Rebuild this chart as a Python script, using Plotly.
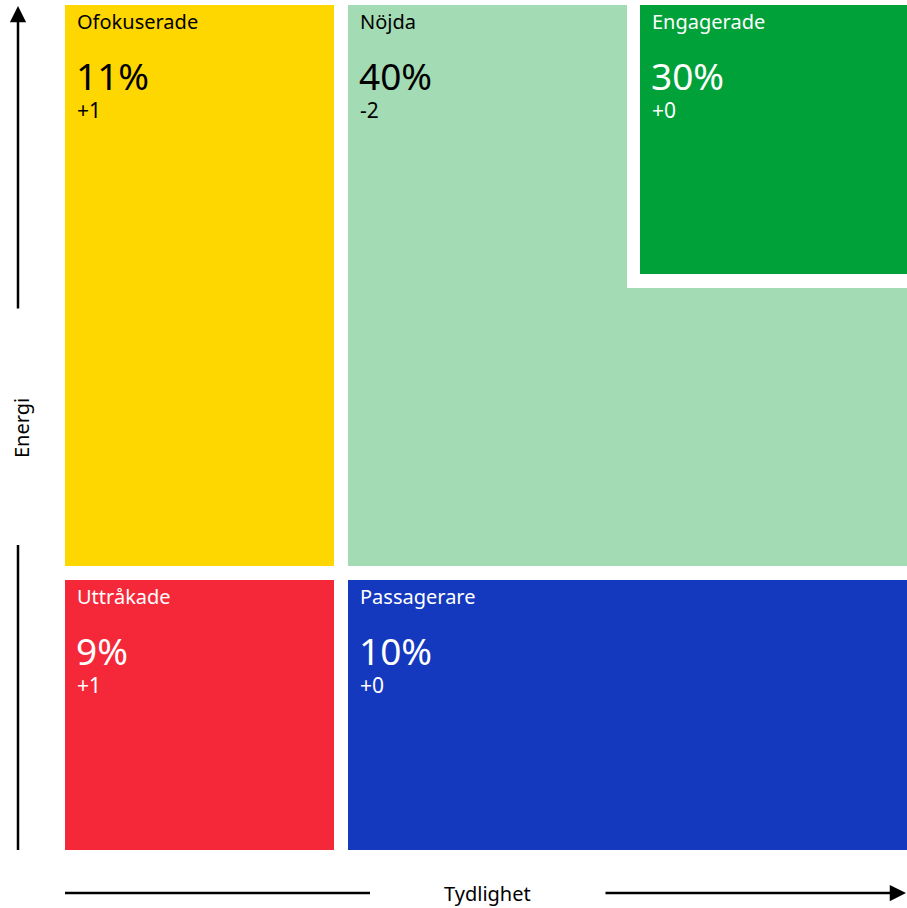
import plotly.graph_objects as go

# ---- data ----
segments = ["Ofokuserade", "Nöjda", "Engagerade", "Uttråkade", "Passagerare"]
shares = [11, 40, 30, 9, 10]
changes = ["+1", "-2", "+0", "+1", "+0"]
x_title = "Tydlighet"
y_title = "Energi"

# ---- layout constants (pixel-like coordinate system) ----
W, H = 907, 908
boxes = {
    "Ofokuserade": (65, 334, 5, 566),
    "Nöjda": (348, 907, 5, 566),
    "Engagerade": (640, 907, 5, 274),
    "Uttråkade": (65, 334, 580, 850),
    "Passagerare": (348, 907, 580, 850),
}
fills = {
    "Ofokuserade": "#FFD700",
    "Nöjda": "#A3DBB4",
    "Engagerade": "#00A139",
    "Uttråkade": "#F5283A",
    "Passagerare": "#1439BE",
}
txtcol = {
    "Ofokuserade": "black",
    "Nöjda": "black",
    "Engagerade": "white",
    "Uttråkade": "white",
    "Passagerare": "white",
}
FONT = "Noto Sans"

fig = go.Figure()
fig.add_trace(go.Scatter(x=[0, W], y=[0, H], mode="markers",
                         marker=dict(opacity=0), hoverinfo="skip", showlegend=False))

shapes = []
annotations = []
for name, share, ch in zip(segments, shares, changes):
    x0, x1, y0, y1 = boxes[name]
    if name == "Engagerade":
        # white frame cut out of the Nöjda area
        shapes.append(dict(type="rect", xref="x", yref="y", x0=627, x1=x1, y0=y0, y1=288,
                           fillcolor="white", line=dict(width=0), layer="below"))
    shapes.append(dict(type="rect", xref="x", yref="y", x0=x0, x1=x1, y0=y0, y1=y1,
                       fillcolor=fills[name], line=dict(width=0), layer="below"))
    c = txtcol[name]
    annotations.append(dict(x=x0 + 11, y=y0 + 2, xref="x", yref="y", text=name,
                            showarrow=False, xanchor="left", yanchor="top", borderpad=0,
                            font=dict(family=FONT, size=20, color=c)))
    annotations.append(dict(x=x0 + 10, y=y0 + 44, xref="x", yref="y", text=f"{share}%",
                            showarrow=False, xanchor="left", yanchor="top", borderpad=0,
                            font=dict(family=FONT, size=37, color=c)))
    annotations.append(dict(x=x0 + 11, y=y0 + 90, xref="x", yref="y", text=ch,
                            showarrow=False, xanchor="left", yanchor="top", borderpad=0,
                            font=dict(family=FONT, size=21, color=c)))

# axis arrows / lines
lw = 2.5
shapes.append(dict(type="line", xref="x", yref="y", x0=18, x1=18, y0=545, y1=850,
                   line=dict(color="black", width=lw)))
shapes.append(dict(type="line", xref="x", yref="y", x0=65, x1=370, y0=893, y1=893,
                   line=dict(color="black", width=lw)))
annotations.append(dict(x=18, y=6, ax=18, ay=310, xref="x", yref="y", axref="x", ayref="y",
                        text="", showarrow=True, arrowhead=2, arrowsize=1.3,
                        arrowwidth=lw, arrowcolor="black"))
annotations.append(dict(x=906, y=893, ax=604, ay=893, xref="x", yref="y", axref="x", ayref="y",
                        text="", showarrow=True, arrowhead=2, arrowsize=1.3,
                        arrowwidth=lw, arrowcolor="black"))
annotations.append(dict(x=487, y=907.5, xref="x", yref="y", text=x_title, showarrow=False,
                        xanchor="center", yanchor="bottom", borderpad=0,
                        font=dict(family=FONT, size=20, color="black")))
annotations.append(dict(x=21, y=428, xref="x", yref="y", text=y_title, showarrow=False,
                        textangle=-90, xanchor="center", yanchor="middle",
                        font=dict(family=FONT, size=20, color="black")))

fig.update_layout(
    width=W, height=H, margin=dict(l=0, r=0, t=0, b=0),
    paper_bgcolor="white", plot_bgcolor="white",
    xaxis=dict(range=[0, W], visible=False, fixedrange=True),
    yaxis=dict(range=[H, 0], visible=False, fixedrange=True),
    shapes=shapes, annotations=annotations, showlegend=False,
)
fig.write_html("out.html", config={"displayModeBar": False})
